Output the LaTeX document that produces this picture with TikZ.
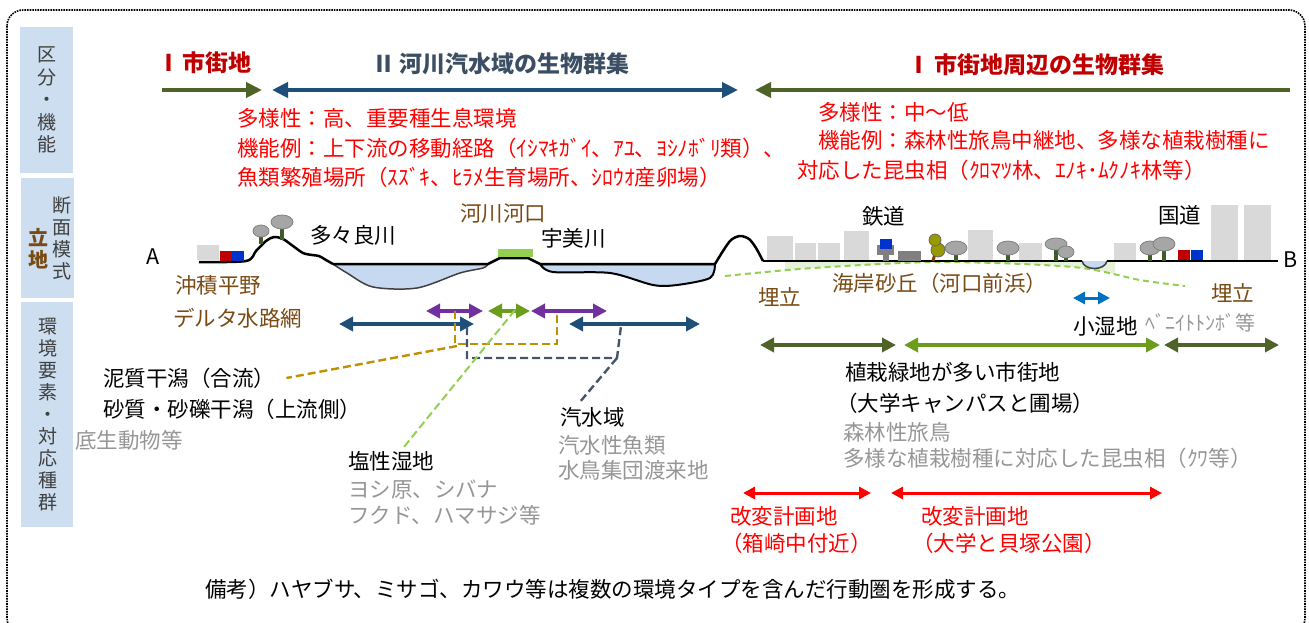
\documentclass[tikz,border=0pt]{standalone}
\usepackage{fontspec}
\setmainfont{Noto Sans CJK JP}
\usetikzlibrary{arrows.meta}

\definecolor{sideblue}{RGB}{204,222,240}
\definecolor{sidetext}{RGB}{64,64,64}
\definecolor{hdrred}{RGB}{192,0,0}
\definecolor{hdrslate}{RGB}{59,78,99}
\definecolor{navy}{RGB}{31,78,121}
\definecolor{darkgreen}{RGB}{79,98,40}
\definecolor{midgreen}{RGB}{107,156,28}
\definecolor{purp}{RGB}{112,48,160}
\definecolor{ochre}{RGB}{191,144,0}
\definecolor{slate}{RGB}{68,84,106}
\definecolor{limegreen}{RGB}{146,208,80}
\definecolor{brownlbl}{RGB}{122,74,20}
\definecolor{graylbl}{RGB}{150,150,150}
\definecolor{water}{RGB}{198,217,241}
\definecolor{bldg}{RGB}{217,217,217}
\definecolor{treegray}{RGB}{166,166,166}
\definecolor{trunk}{RGB}{61,92,39}
\definecolor{dunefill}{RGB}{230,241,218}
\definecolor{carblue}{RGB}{0,51,204}
\definecolor{boxred}{RGB}{192,0,0}
\definecolor{skyblue}{RGB}{0,112,192}
\definecolor{treeolive}{RGB}{153,153,0}
\definecolor{wood}{RGB}{128,64,0}

\tikzset{
  txt/.style={inner sep=0pt, anchor=west, font=\fontsize{21.5}{26}\selectfont},
  hdr/.style={inner sep=0pt, anchor=west, font=\fontsize{23}{28}\selectfont\bfseries},
  vtxt/.style={inner sep=0pt, align=center, text=sidetext, font=\fontsize{19}{22.5}\selectfont},
  band/.style={fill=sideblue},
  bighead/.tip={Triangle[length=16pt,width=15pt]},
  midhead/.tip={Triangle[length=14pt,width=14pt]},
  smallhead/.tip={Triangle[length=12pt,width=12pt]},
  bar/.style={line width=4pt},
  span/.style={line width=3.5pt, midhead-midhead},
  plan/.style={line width=3pt, smallhead-smallhead},
  lead/.style={line width=2.4pt, dash pattern=on 8pt off 4pt},
  ground/.style={line width=2.5pt, line join=round},
  house/.style={fill=bldg},
  canopy/.style={fill=treegray, draw=black!50, line width=0.8pt},
  stem/.style={fill=trunk}
}

\begin{document}
\begin{tikzpicture}[x=1pt,y=-1pt]
    \useasboundingbox (0,0) rectangle (1309,623);
    % Draw outer frame
    \draw[densely dotted, line width=1.6pt, rounded corners=16pt] (7,10) rectangle (1305,634);

    % Draw side bands
    \fill[band] (20,27) rectangle (73,173);
    \fill[band] (21,178) rectangle (74,298);
    \fill[band] (21,302) rectangle (73,527);
    \node[vtxt] (bandA) at (47,100) {区\\分\\・\\機\\能};
    \node[vtxt, text=brownlbl, font=\fontsize{20}{22}\selectfont\bfseries] (bandB1) at (38,249) {立\\地};
    \node[vtxt, font=\fontsize{19}{22}\selectfont] (bandB2) at (62,238) {断\\面\\模\\式};
    \node[vtxt, font=\fontsize{19}{22}\selectfont] (bandC) at (48,415) {環\\境\\要\\素\\・\\対\\応\\種\\群};

    % Draw zone headers and arrows
    \node[hdr, text=hdrred] (zoneI) at (157,63) {Ⅰ\hspace{2pt}市街地};
    \node[hdr, text=hdrslate] (zoneII) at (372,64) {Ⅱ\hspace{4pt}河川汽水域の生物群集};
    \node[hdr, text=hdrred] (zoneIII) at (907,65) {Ⅰ\hspace{4pt}市街地周辺の生物群集};
    \draw[bar, darkgreen, -bighead] (162,90) -- (262,90);
    \draw[bar, navy, bighead-bighead] (272,90) -- (738,90);
    \draw[bar, darkgreen, bighead-] (755,90) -- (1290,90);

    % Draw function texts
    \node[txt, text=red] (divA) at (237,118) {多様性：高、重要種生息環境};
    \node[txt, text=red] (funcA) at (237,148) {機能例：上下流の移動経路（ｲｼﾏｷｶﾞｲ、ｱﾕ、ﾖｼﾉﾎﾞﾘ類）、};
    \node[txt, text=red] (funcA2) at (237,177) {魚類繁殖場所（ｽｽﾞｷ、ﾋﾗﾒ生育場所、ｼﾛｳｵ産卵場）};
    \node[txt, text=red] (divB) at (818,112) {多様性：中～低};
    \node[txt, text=red] (funcB) at (818,140) {機能例：森林性旅鳥中継地、多様な植栽樹種に};
    \node[txt, text=red] (funcB2) at (797,170) {対応した昆虫相（ｸﾛﾏﾂ林、ｴﾉｷ･ﾑｸﾉｷ林等）};

    % Draw dune below the right ground
    \begin{scope}
        \clip (785,250) rectangle (1115,300);
        \fill[dunefill] plot[smooth] coordinates {(725,276) (813,268) (940,262) (1073,267) (1140,280) (1185,286)} -- (1185,261) -- (725,261) -- cycle;
    \end{scope}
    \draw[limegreen, line width=2pt, dash pattern=on 6pt off 4pt] plot[smooth] coordinates {(725,276) (813,268) (940,262) (1073,267) (1140,280) (1185,286)};

    % Draw rivers
    \filldraw[fill=water, draw=black!75, line width=1.5pt] plot[smooth] coordinates {(333,264) (347,273) (373,287) (417,288) (460,273) (483,268) (488,264)} -- cycle;
    \filldraw[fill=water, draw=black, line width=2pt] plot[smooth] coordinates {(540,264) (553,272) (610,273) (653,285) (677,285) (710,278) (715,264)} -- cycle;
    \fill[water] (1082,261) .. controls (1084,271) and (1105,271) .. (1107,261) -- cycle;
    \draw[black!75, line width=1.5pt] (1082,261) .. controls (1084,271) and (1105,271) .. (1107,261);

    % Draw ground profile
    \draw[ground] plot[smooth] coordinates {(199,262) (246,261) (256,251) (266,241) (274,237) (283,239) (293,246) (303,253) (312,255) (319,256) (326,260) (333,264)};
    \draw[ground] (333,264) -- (488,264) -- (500,258) -- (528,258) -- (540,264) -- (715,264);
    \draw[ground] plot[smooth] coordinates {(715,264) (723,251) (731,240) (740,236) (749,239) (756,248) (763,261)};
    \draw[ground] (763,261) -- (1082,261) (1107,261) -- (1251,261);
    \draw[line width=1.5pt] (1251,261) -- (1278,261);
    \fill[limegreen] (498,249) rectangle (533,257);

    % Draw buildings
    \foreach \xa/\xb/\yt in {197/219/245, 767/793/236, 795/816/243, 818/840/243, 844/869/231, 968/993/230, 1019/1042/243, 1114/1136/243, 1211/1238/205, 1244/1271/205}
        \fill[house] (\xa,\yt) rectangle (\xb,260);
    \fill[boxred] (220,251) rectangle (232,261);
    \fill[carblue] (232,251) rectangle (244,261);
    \fill[boxred] (1178,250) rectangle (1190,260);
    \fill[carblue] (1191,250) rectangle (1203,260);
    \fill[gray] (877,245) rectangle (894,255);
    \fill[gray] (883,255) rectangle (889,261);
    \fill[carblue] (880,239) rectangle (892,249);
    \fill[gray] (898,251) rectangle (921,261);

    % Draw trees
    \foreach \cx/\cy/\rx/\ry/\yb in {261/231/8/6/244, 282/222/11/7/240, 956/248/11/7/261, 1008/248/11/7/261, 1056/244/11/6/261, 1066/252/8/6/261, 1150/248/10/7/261, 1164/244/11/7/261}
    {
        \fill[stem] (\cx-2,\cy) rectangle (\cx+2,\yb);
        \draw[canopy] (\cx,\cy) ellipse [x radius=\rx, y radius=\ry];
    }
    \draw[wood, line width=3pt] (933,261) -- (938,242);
    \draw[fill=treeolive, draw=black!60, line width=0.8pt] (938,250) circle [radius=7];
    \draw[fill=treeolive, draw=black!60, line width=0.8pt] (935,240) circle [radius=6];

    % Draw section labels
    \node[txt] (ptA) at (146,257) {A};
    \node[txt] (ptB) at (1283,260) {B};
    \node[txt] (tatara) at (310,235) {多々良川};
    \node[txt, text=brownlbl] (mouth) at (460,214) {河川河口};
    \node[txt] (umi) at (541,238) {宇美川};
    \node[txt] (rail) at (862,216) {鉄道};
    \node[txt] (road) at (1158,215) {国道};
    \node[txt, text=brownlbl] (plain) at (175,285) {沖積平野};
    \node[txt, text=brownlbl] (delta) at (173,318) {デルタ水路網};
    \node[txt, text=brownlbl] (dunelbl) at (832,283) {海岸砂丘（河口前浜）};
    \node[txt, text=brownlbl] (fillL) at (758,297) {埋立};
    \node[txt, text=brownlbl] (fillR) at (1211,293) {埋立};
    \draw[plan, skyblue] (1073,298) -- (1110,298);
    \node[txt] (wet) at (1073,326) {小湿地};
    \node[txt, text=graylbl, font=\fontsize{20}{24}\selectfont] (wetsp) at (1145,323) {ﾍﾞﾆｲﾄﾄﾝﾎﾞ等};

    % Draw river habitat spans
    \draw[span, purp] (426,311) -- (483,311);
    \draw[span, midgreen] (488,311) -- (530,311);
    \draw[span, purp] (531,311) -- (607,311);
    \draw[span, navy] (339,324) -- (474,324);
    \draw[span, navy] (569,324) -- (700,324);
    \draw[lead, ochre] (455,311) -- (455,344) -- (557,344) -- (557,311);
    \draw[lead, slate] (467,327) -- (467,358) -- (617,358) -- (621,326);

    % Draw river habitat labels
    \node[txt] (mud) at (103,378) {泥質干潟（合流）};
    \node[txt] (sand) at (103,409) {砂質・砂礫干潟（上流側）};
    \node[txt, text=graylbl] (benthos) at (75,440) {底生動物等};
    \node[txt] (salt) at (348,461) {塩性湿地};
    \node[txt, text=graylbl] (saltsp1) at (348,490) {ヨシ原、シバナ};
    \node[txt, text=graylbl] (saltsp2) at (348,515) {フクド、ハマサジ等};
    \node[txt] (kisui) at (560,417) {汽水域};
    \node[txt, text=graylbl] (kisuisp1) at (558,445) {汽水性魚類};
    \node[txt, text=graylbl] (kisuisp2) at (558,470) {水鳥集団渡来地};

    % Draw leaders
    \coordinate (ochreFoot) at (457,346);
    \coordinate (slateFoot) at (617,358);
    \coordinate (limeTop) at (515,310);
    \draw[lead, ochre] (ochreFoot) -- ([xshift=11pt]mud.east);
    \draw[lead, slate] (slateFoot) -- ([xshift=20pt,yshift=5pt]kisui.north west);
    \draw[lead, limegreen, line width=2pt] (limeTop) -- ([xshift=12pt,yshift=3pt]salt.north);

    % Draw urban spans and labels
    \draw[span, darkgreen] (760,345) -- (896,345);
    \draw[span, midgreen] (904,345) -- (1160,345);
    \draw[span, darkgreen] (1164,345) -- (1279,345);
    \node[txt] (green1) at (845,372) {植栽緑地が多い市街地};
    \node[txt] (green2) at (836,403) {（大学キャンパスと圃場）};
    \node[txt, text=graylbl] (forest1) at (843,432) {森林性旅鳥};
    \node[txt, text=graylbl] (forest2) at (843,458) {多様な植栽樹種に対応した昆虫相（ｸﾜ等）};

    % Draw planned change areas
    \draw[plan, red] (743,493) -- (871,493);
    \draw[plan, red] (891,493) -- (1162,493);
    \node[txt, text=red] (plan1) at (730,516) {改変計画地};
    \node[txt, text=red] (plan1b) at (721,543) {（箱崎中付近）};
    \node[txt, text=red] (plan2) at (921,516) {改変計画地};
    \node[txt, text=red] (plan2b) at (912,543) {（大学と貝塚公園）};

    % Draw note
    \node[txt] (note) at (205,589) {備考）ハヤブサ、ミサゴ、カワウ等は複数の環境タイプを含んだ行動圏を形成する。};
\end{tikzpicture}
\end{document}
